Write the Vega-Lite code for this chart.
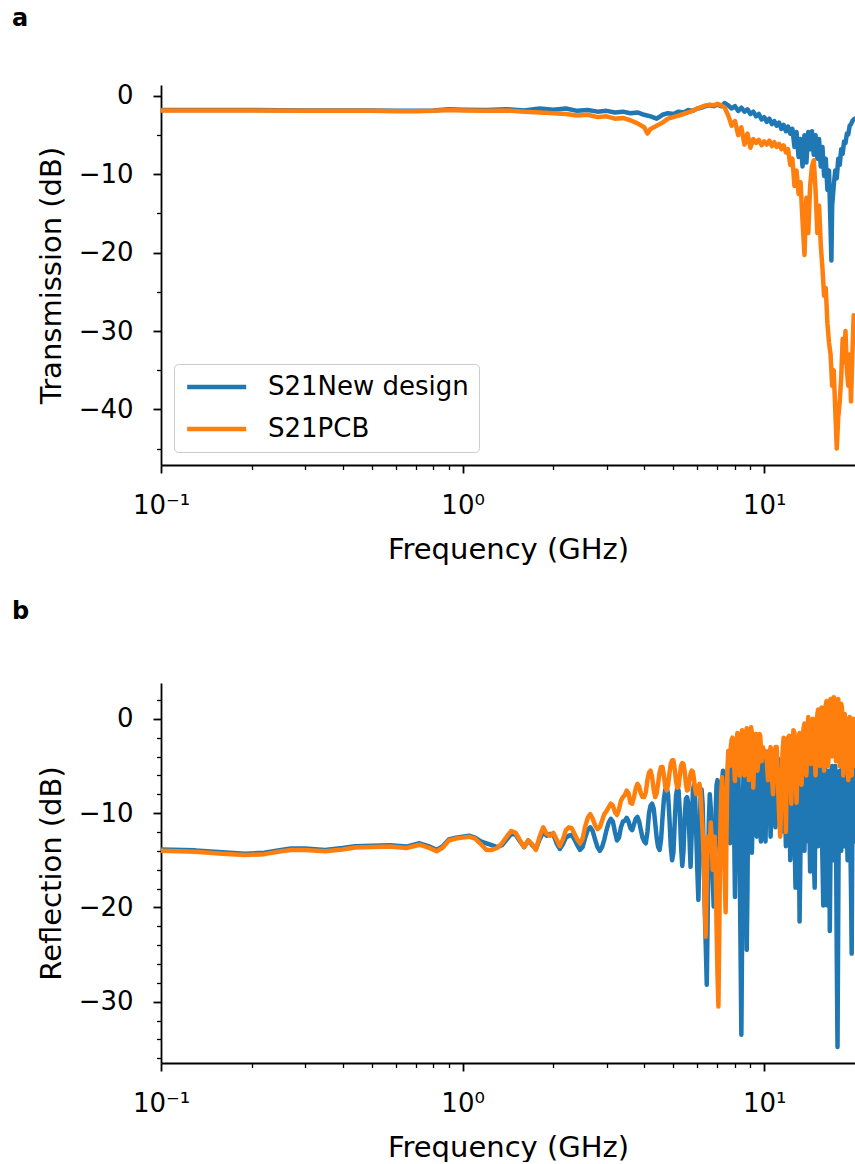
{
  "$schema": "https://vega.github.io/schema/vega-lite/v6.json",
  "background": "white",
  "padding": {"left": 12, "top": 6, "right": 0, "bottom": 0},
  "spacing": 36,
  "resolve": {"scale": {"color": "independent"}, "legend": {"color": "independent"}},
  "config": {
    "font": "DejaVu Sans",
    "view": {"stroke": null},
    "axis": {
      "grid": false,
      "domainColor": "black",
      "domainWidth": 1.8,
      "tickColor": "black",
      "labelColor": "black",
      "titleColor": "black",
      "labelFont": "DejaVu Sans",
      "titleFont": "DejaVu Sans",
      "titleFontSize": 29,
      "titleFontWeight": "normal",
      "labelFlush": false
    },
    "title": {"font": "DejaVu Sans", "color": "black"}
  },
  "datasets": {
    "tNew": [
      {"f":0.1,"v":-1.8},{"f":0.15,"v":-1.8},{"f":0.2,"v":-1.8},{"f":0.3,"v":-1.85},{"f":0.4,"v":-1.85},{"f":0.5,"v":-1.85},{"f":0.6,"v":-1.9},{"f":0.7,"v":-1.9},{"f":0.8,"v":-1.85},{"f":0.9,"v":-1.7},
      {"f":1.0,"v":-1.75},{"f":1.2,"v":-1.8},{"f":1.4,"v":-1.7},{"f":1.6,"v":-1.85},{"f":1.8,"v":-1.6},{"f":2.0,"v":-1.75},{"f":2.2,"v":-1.6},{"f":2.4,"v":-1.9},{"f":2.6,"v":-1.8},{"f":2.8,"v":-2.0},
      {"f":3.0,"v":-1.9},{"f":3.2,"v":-2.1},{"f":3.4,"v":-2.0},{"f":3.6,"v":-2.2},{"f":3.8,"v":-2.1},{"f":4.0,"v":-2.4},{"f":4.2,"v":-2.6},{"f":4.4,"v":-2.9},{"f":4.6,"v":-2.4},{"f":4.8,"v":-2.2},
      {"f":5.0,"v":-2.3},{"f":5.2,"v":-2.0},{"f":5.4,"v":-2.1},{"f":5.6,"v":-1.8},{"f":5.8,"v":-1.9},{"f":6.0,"v":-1.6},{"f":6.2,"v":-1.5},{"f":6.4,"v":-1.3},{"f":6.6,"v":-1.2},{"f":6.8,"v":-1.3},
      {"f":7.0,"v":-1.1},{"f":7.2,"v":-1.3},{"f":7.4,"v":-0.9},{"f":7.6,"v":-1.2},{"f":7.8,"v":-1.6},{"f":8.0,"v":-1.3},{"f":8.2,"v":-1.9},{"f":8.4,"v":-1.5},{"f":8.6,"v":-2.0},{"f":8.8,"v":-1.7},
      {"f":9.0,"v":-2.3},{"f":9.2,"v":-2.0},{"f":9.4,"v":-2.6},{"f":9.6,"v":-2.3},{"f":9.8,"v":-3.0},{"f":10.0,"v":-2.7},{"f":10.2,"v":-3.3},{"f":10.4,"v":-2.9},{"f":10.6,"v":-3.6},{"f":10.8,"v":-3.2},
      {"f":11.0,"v":-3.8},{"f":11.2,"v":-3.4},{"f":11.4,"v":-4.2},{"f":11.6,"v":-3.7},{"f":11.8,"v":-4.5},{"f":12.0,"v":-3.9},{"f":12.2,"v":-4.8},{"f":12.4,"v":-4.2},{"f":12.6,"v":-6.5},{"f":12.8,"v":-4.6},
      {"f":13.0,"v":-7.8},{"f":13.2,"v":-5.5},{"f":13.4,"v":-9.0},{"f":13.6,"v":-5.0},{"f":13.8,"v":-8.5},{"f":14.0,"v":-4.6},{"f":14.2,"v":-6.8},{"f":14.4,"v":-4.5},{"f":14.6,"v":-7.5},{"f":14.8,"v":-5.0},
      {"f":15.0,"v":-8.0},{"f":15.2,"v":-5.5},{"f":15.4,"v":-9.0},{"f":15.6,"v":-6.5},{"f":15.8,"v":-10.2},{"f":16.0,"v":-8.0},{"f":16.2,"v":-12.0},{"f":16.4,"v":-9.5},{"f":16.6,"v":-17.0},{"f":16.7,"v":-21.0},
      {"f":16.8,"v":-14.0},{"f":17.0,"v":-11.5},{"f":17.2,"v":-9.5},{"f":17.4,"v":-10.5},{"f":17.6,"v":-8.0},{"f":17.8,"v":-8.8},{"f":18.0,"v":-6.8},{"f":18.2,"v":-7.4},{"f":18.4,"v":-5.8},{"f":18.6,"v":-6.0},
      {"f":18.8,"v":-4.8},{"f":19.0,"v":-4.9},{"f":19.2,"v":-3.8},{"f":19.4,"v":-3.6},{"f":19.6,"v":-3.2},{"f":19.8,"v":-3.0},{"f":20.0,"v":-2.9}
    ],
    "tPcb": [
      {"f":0.1,"v":-1.85},{"f":0.15,"v":-1.85},{"f":0.2,"v":-1.85},{"f":0.3,"v":-1.9},{"f":0.4,"v":-1.9},{"f":0.5,"v":-1.9},{"f":0.6,"v":-1.95},{"f":0.7,"v":-1.95},{"f":0.8,"v":-1.9},{"f":0.9,"v":-1.8},
      {"f":1.0,"v":-1.85},{"f":1.2,"v":-1.9},{"f":1.4,"v":-1.85},{"f":1.6,"v":-2.0},{"f":1.8,"v":-2.1},{"f":2.0,"v":-2.2},{"f":2.2,"v":-2.3},{"f":2.4,"v":-2.5},{"f":2.6,"v":-2.4},{"f":2.8,"v":-2.7},
      {"f":3.0,"v":-2.6},{"f":3.2,"v":-2.9},{"f":3.4,"v":-2.8},{"f":3.6,"v":-3.1},{"f":3.8,"v":-3.5},{"f":4.0,"v":-4.0},{"f":4.1,"v":-4.8},{"f":4.2,"v":-4.2},{"f":4.4,"v":-3.8},{"f":4.6,"v":-3.4},
      {"f":4.8,"v":-2.9},{"f":5.0,"v":-2.7},{"f":5.2,"v":-2.5},{"f":5.4,"v":-2.3},{"f":5.6,"v":-2.1},{"f":5.8,"v":-1.9},{"f":6.0,"v":-1.6},{"f":6.2,"v":-1.4},{"f":6.4,"v":-1.2},{"f":6.6,"v":-1.1},
      {"f":6.8,"v":-1.2},{"f":7.0,"v":-1.0},{"f":7.2,"v":-1.2},{"f":7.4,"v":-1.5},{"f":7.6,"v":-2.5},{"f":7.8,"v":-3.8},{"f":8.0,"v":-3.2},{"f":8.2,"v":-5.0},{"f":8.4,"v":-4.0},{"f":8.6,"v":-6.2},
      {"f":8.8,"v":-4.8},{"f":9.0,"v":-6.6},{"f":9.2,"v":-5.5},{"f":9.4,"v":-6.0},{"f":9.6,"v":-5.6},{"f":9.8,"v":-6.3},{"f":10.0,"v":-5.8},{"f":10.2,"v":-6.2},{"f":10.4,"v":-5.7},{"f":10.6,"v":-6.4},
      {"f":10.8,"v":-5.9},{"f":11.0,"v":-6.5},{"f":11.2,"v":-6.1},{"f":11.4,"v":-6.8},{"f":11.6,"v":-6.3},{"f":11.8,"v":-7.2},{"f":12.0,"v":-6.8},{"f":12.2,"v":-8.8},{"f":12.4,"v":-8.0},{"f":12.6,"v":-11.5},
      {"f":12.8,"v":-9.5},{"f":13.0,"v":-12.5},{"f":13.2,"v":-11.0},{"f":13.4,"v":-16.0},{"f":13.6,"v":-20.3},{"f":13.8,"v":-13.0},{"f":14.0,"v":-17.5},{"f":14.2,"v":-11.5},{"f":14.4,"v":-9.0},{"f":14.6,"v":-8.2},
      {"f":14.8,"v":-12.0},{"f":15.0,"v":-17.5},{"f":15.2,"v":-14.0},{"f":15.4,"v":-19.0},{"f":15.6,"v":-22.0},{"f":15.8,"v":-25.5},{"f":16.0,"v":-24.5},{"f":16.2,"v":-29.0},{"f":16.4,"v":-31.5},{"f":16.6,"v":-33.0},
      {"f":16.8,"v":-37.0},{"f":17.0,"v":-35.0},{"f":17.2,"v":-40.0},{"f":17.4,"v":-45.0},{"f":17.6,"v":-41.0},{"f":17.8,"v":-39.0},{"f":18.0,"v":-36.0},{"f":18.2,"v":-31.0},{"f":18.4,"v":-34.0},{"f":18.6,"v":-30.0},
      {"f":18.8,"v":-35.0},{"f":19.0,"v":-37.0},{"f":19.2,"v":-33.0},{"f":19.4,"v":-39.0},{"f":19.6,"v":-33.0},{"f":19.8,"v":-28.0},{"f":20.0,"v":-30.0}
    ],
    "rNew": [
      {"f":0.1,"v":-13.85},{"f":0.13,"v":-13.95},{"f":0.16,"v":-14.15},{"f":0.19,"v":-14.3},{"f":0.22,"v":-14.2},{"f":0.25,"v":-13.9},{"f":0.27,"v":-13.75},{"f":0.3,"v":-13.75},{"f":0.35,"v":-13.9},{"f":0.4,"v":-13.7},
      {"f":0.44,"v":-13.5},{"f":0.5,"v":-13.45},{"f":0.575,"v":-13.4},{"f":0.65,"v":-13.55},{"f":0.72,"v":-13.2},{"f":0.77,"v":-13.5},{"f":0.82,"v":-13.9},{"f":0.86,"v":-13.5},{"f":0.9,"v":-12.8},{"f":0.95,"v":-12.6},
      {"f":1.0,"v":-12.5},{"f":1.05,"v":-12.4},{"f":1.1,"v":-12.6},{"f":1.15,"v":-13.0},{"f":1.2,"v":-13.2},{"f":1.25,"v":-13.4},{"f":1.3,"v":-13.6},{"f":1.35,"v":-13.4},{"f":1.4,"v":-12.8},{"f":1.45,"v":-12.2},
      {"f":1.5,"v":-12.3},{"f":1.55,"v":-13.0},{"f":1.6,"v":-13.6},{"f":1.65,"v":-12.9},{"f":1.7,"v":-13.4},{"f":1.75,"v":-13.8},{"f":1.8,"v":-12.8},{"f":1.85,"v":-12.0},{"f":1.9,"v":-12.4},{"f":1.95,"v":-12.2},
      {"f":2.0,"v":-12.3},{"f":2.05,"v":-13.2},{"f":2.1,"v":-13.8},{"f":2.15,"v":-13.3},{"f":2.2,"v":-12.6},{"f":2.25,"v":-12.4},{"f":2.3,"v":-12.3},{"f":2.35,"v":-12.8},{"f":2.4,"v":-13.4},{"f":2.45,"v":-13.9},
      {"f":2.5,"v":-13.6},{"f":2.55,"v":-12.6},{"f":2.6,"v":-11.8},{"f":2.65,"v":-11.5},{"f":2.7,"v":-11.9},{"f":2.75,"v":-12.8},{"f":2.8,"v":-13.6},{"f":2.85,"v":-14.0},{"f":2.9,"v":-13.6},{"f":2.95,"v":-12.8},
      {"f":3.0,"v":-11.8},{"f":3.05,"v":-11.0},{"f":3.1,"v":-10.6},{"f":3.15,"v":-10.9},{"f":3.2,"v":-12.0},{"f":3.25,"v":-12.9},{"f":3.3,"v":-12.6},{"f":3.35,"v":-11.5},{"f":3.4,"v":-10.9},{"f":3.45,"v":-10.8},
      {"f":3.5,"v":-10.5},{"f":3.55,"v":-10.9},{"f":3.6,"v":-11.6},{"f":3.65,"v":-11.8},{"f":3.7,"v":-11.2},{"f":3.75,"v":-10.6},{"f":3.8,"v":-10.4},{"f":3.85,"v":-10.9},{"f":3.9,"v":-11.8},{"f":3.95,"v":-12.6},
      {"f":4.0,"v":-13.0},{"f":4.05,"v":-13.2},{"f":4.1,"v":-12.0},{"f":4.15,"v":-10.0},{"f":4.2,"v":-9.2},{"f":4.25,"v":-9.0},{"f":4.3,"v":-9.5},{"f":4.35,"v":-11.0},{"f":4.4,"v":-12.6},{"f":4.45,"v":-13.6},
      {"f":4.5,"v":-13.9},{"f":4.55,"v":-12.8},{"f":4.6,"v":-10.5},{"f":4.65,"v":-8.5},{"f":4.7,"v":-7.5},{"f":4.75,"v":-7.3},{"f":4.8,"v":-8.0},{"f":4.85,"v":-10.5},{"f":4.9,"v":-13.5},{"f":4.95,"v":-15.0},
      {"f":5.0,"v":-14.2},{"f":5.05,"v":-11.0},{"f":5.1,"v":-8.2},{"f":5.15,"v":-7.3},{"f":5.2,"v":-7.6},{"f":5.25,"v":-9.8},{"f":5.3,"v":-13.5},{"f":5.35,"v":-15.6},{"f":5.4,"v":-14.0},{"f":5.45,"v":-10.5},
      {"f":5.5,"v":-8.5},{"f":5.55,"v":-8.3},{"f":5.6,"v":-9.0},{"f":5.65,"v":-12.5},{"f":5.7,"v":-15.7},{"f":5.75,"v":-12.0},{"f":5.8,"v":-7.6},{"f":5.85,"v":-7.0},{"f":5.9,"v":-8.2},{"f":5.95,"v":-12.0},
      {"f":6.0,"v":-16.0},{"f":6.05,"v":-19.2},{"f":6.1,"v":-14.0},{"f":6.15,"v":-8.5},{"f":6.2,"v":-7.5},{"f":6.25,"v":-9.0},{"f":6.3,"v":-14.0},{"f":6.35,"v":-20.0},{"f":6.4,"v":-24.0},{"f":6.45,"v":-28.2},
      {"f":6.5,"v":-20.0},{"f":6.55,"v":-11.0},{"f":6.6,"v":-8.0},{"f":6.65,"v":-9.5},{"f":6.7,"v":-14.0},{"f":6.75,"v":-17.0},{"f":6.8,"v":-19.9},{"f":6.85,"v":-16.0},{"f":6.9,"v":-10.0},{"f":6.95,"v":-7.0},
      {"f":7.0,"v":-6.5},{"f":7.05,"v":-9.0},{"f":7.1,"v":-13.0},{"f":7.15,"v":-15.0},{"f":7.2,"v":-11.0},{"f":7.25,"v":-6.5},{"f":7.3,"v":-5.5},{"f":7.35,"v":-7.0},{"f":7.4,"v":-11.0},{"f":7.45,"v":-13.5},
      {"f":7.5,"v":-10.0},{"f":7.55,"v":-6.0},{"f":7.6,"v":-5.0},{"f":7.65,"v":-6.5},{"f":7.7,"v":-13.2},{"f":7.75,"v":-11.0},{"f":7.8,"v":-6.0},{"f":7.85,"v":-4.8},{"f":7.9,"v":-5.5},{"f":7.95,"v":-12.0},
      {"f":8.0,"v":-18.9},{"f":8.05,"v":-12.0},{"f":8.1,"v":-6.0},{"f":8.15,"v":-4.5},{"f":8.2,"v":-5.0},{"f":8.25,"v":-9.0},{"f":8.3,"v":-16.0},{"f":8.35,"v":-25.0},{"f":8.4,"v":-33.5},{"f":8.45,"v":-22.0},
      {"f":8.5,"v":-9.0},{"f":8.55,"v":-5.0},{"f":8.6,"v":-4.5},{"f":8.65,"v":-8.0},{"f":8.7,"v":-16.0},{"f":8.75,"v":-24.5},{"f":8.8,"v":-18.0},{"f":8.85,"v":-8.0},{"f":8.9,"v":-4.6},{"f":8.95,"v":-4.2},
      {"f":9.0,"v":-5.5},{"f":9.05,"v":-10.0},{"f":9.1,"v":-14.2},{"f":9.15,"v":-11.0},{"f":9.2,"v":-6.0},{"f":9.25,"v":-4.2},{"f":9.3,"v":-4.0},{"f":9.35,"v":-6.5},{"f":9.4,"v":-11.0},{"f":9.45,"v":-12.5},
      {"f":9.5,"v":-9.0},{"f":9.55,"v":-5.0},{"f":9.6,"v":-3.8},{"f":9.65,"v":-4.5},{"f":9.7,"v":-9.0},{"f":9.75,"v":-13.0},{"f":9.8,"v":-10.0},{"f":9.85,"v":-5.0},{"f":9.9,"v":-3.6},{"f":9.95,"v":-4.0},
      {"f":10.0,"v":-8.5},{"f":10.1,"v":-13.0},{"f":10.2,"v":-6.0},{"f":10.3,"v":-3.5},{"f":10.4,"v":-7.0},{"f":10.5,"v":-12.5},{"f":10.6,"v":-8.0},{"f":10.7,"v":-3.8},{"f":10.8,"v":-5.5},{"f":10.9,"v":-11.5},
      {"f":11.0,"v":-9.0},{"f":11.1,"v":-4.2},{"f":11.2,"v":-4.5},{"f":11.3,"v":-10.5},{"f":11.4,"v":-12.0},{"f":11.5,"v":-6.0},{"f":11.6,"v":-4.0},{"f":11.7,"v":-8.0},{"f":11.8,"v":-13.5},{"f":11.9,"v":-9.0},
      {"f":12.0,"v":-4.8},{"f":12.1,"v":-6.0},{"f":12.2,"v":-15.0},{"f":12.3,"v":-12.0},{"f":12.4,"v":-5.2},{"f":12.5,"v":-5.0},{"f":12.6,"v":-12.0},{"f":12.7,"v":-17.9},{"f":12.8,"v":-10.0},{"f":12.9,"v":-4.5},
      {"f":13.0,"v":-7.0},{"f":13.1,"v":-21.5},{"f":13.2,"v":-13.0},{"f":13.3,"v":-5.0},{"f":13.4,"v":-4.2},{"f":13.5,"v":-10.0},{"f":13.6,"v":-14.0},{"f":13.7,"v":-7.0},{"f":13.8,"v":-4.0},{"f":13.9,"v":-6.5},
      {"f":14.0,"v":-13.0},{"f":14.1,"v":-10.0},{"f":14.2,"v":-16.2},{"f":14.3,"v":-5.5},{"f":14.4,"v":-4.3},{"f":14.5,"v":-9.0},{"f":14.6,"v":-14.5},{"f":14.7,"v":-17.9},{"f":14.8,"v":-8.0},{"f":14.9,"v":-4.5},
      {"f":15.0,"v":-6.0},{"f":15.1,"v":-13.5},{"f":15.2,"v":-11.0},{"f":15.3,"v":-5.0},{"f":15.4,"v":-4.8},{"f":15.5,"v":-11.0},{"f":15.6,"v":-15.0},{"f":15.7,"v":-19.8},{"f":15.8,"v":-9.0},{"f":15.9,"v":-5.0},
      {"f":16.0,"v":-6.0},{"f":16.1,"v":-14.0},{"f":16.2,"v":-19.8},{"f":16.3,"v":-12.0},{"f":16.4,"v":-5.5},{"f":16.5,"v":-22.5},{"f":16.6,"v":-13.0},{"f":16.7,"v":-6.0},{"f":16.8,"v":-5.0},{"f":16.9,"v":-12.0},
      {"f":17.0,"v":-15.0},{"f":17.1,"v":-8.0},{"f":17.2,"v":-5.0},{"f":17.3,"v":-12.0},{"f":17.4,"v":-25.0},{"f":17.5,"v":-34.8},{"f":17.6,"v":-20.0},{"f":17.7,"v":-7.0},{"f":17.8,"v":-5.5},{"f":17.9,"v":-11.0},
      {"f":18.0,"v":-14.0},{"f":18.1,"v":-7.0},{"f":18.2,"v":-5.0},{"f":18.3,"v":-9.0},{"f":18.4,"v":-13.5},{"f":18.5,"v":-8.0},{"f":18.6,"v":-5.2},{"f":18.7,"v":-6.0},{"f":18.8,"v":-12.0},{"f":18.9,"v":-15.0},
      {"f":19.0,"v":-8.0},{"f":19.1,"v":-5.5},{"f":19.2,"v":-7.0},{"f":19.3,"v":-13.0},{"f":19.4,"v":-18.0},{"f":19.5,"v":-24.9},{"f":19.6,"v":-12.0},{"f":19.7,"v":-6.0},{"f":19.8,"v":-5.0},{"f":19.9,"v":-9.0},
      {"f":20.0,"v":-13.0}
    ],
    "rPcb": [
      {"f":0.1,"v":-14.0},{"f":0.13,"v":-14.1},{"f":0.16,"v":-14.3},{"f":0.19,"v":-14.45},{"f":0.22,"v":-14.35},{"f":0.25,"v":-14.05},{"f":0.27,"v":-13.9},{"f":0.3,"v":-13.9},{"f":0.35,"v":-14.05},{"f":0.4,"v":-13.85},
      {"f":0.44,"v":-13.65},{"f":0.5,"v":-13.6},{"f":0.575,"v":-13.55},{"f":0.65,"v":-13.7},{"f":0.72,"v":-13.35},{"f":0.77,"v":-13.65},{"f":0.82,"v":-14.05},{"f":0.86,"v":-13.65},{"f":0.9,"v":-12.9},{"f":0.95,"v":-12.7},
      {"f":1.0,"v":-12.6},{"f":1.05,"v":-12.5},{"f":1.1,"v":-12.7},{"f":1.15,"v":-13.3},{"f":1.2,"v":-13.9},{"f":1.25,"v":-13.9},{"f":1.3,"v":-13.7},{"f":1.35,"v":-13.2},{"f":1.4,"v":-12.5},{"f":1.45,"v":-11.9},
      {"f":1.5,"v":-12.1},{"f":1.55,"v":-12.9},{"f":1.6,"v":-13.6},{"f":1.65,"v":-12.9},{"f":1.7,"v":-13.3},{"f":1.75,"v":-13.9},{"f":1.8,"v":-12.5},{"f":1.85,"v":-11.5},{"f":1.9,"v":-12.2},{"f":1.95,"v":-12.4},
      {"f":2.0,"v":-12.1},{"f":2.05,"v":-12.8},{"f":2.1,"v":-13.5},{"f":2.15,"v":-12.8},{"f":2.2,"v":-11.8},{"f":2.25,"v":-11.5},{"f":2.3,"v":-11.6},{"f":2.35,"v":-12.2},{"f":2.4,"v":-12.8},{"f":2.45,"v":-13.2},
      {"f":2.5,"v":-12.7},{"f":2.55,"v":-11.4},{"f":2.6,"v":-10.5},{"f":2.65,"v":-10.1},{"f":2.7,"v":-10.6},{"f":2.75,"v":-11.3},{"f":2.8,"v":-11.7},{"f":2.85,"v":-11.5},{"f":2.9,"v":-10.8},{"f":2.95,"v":-10.1},
      {"f":3.0,"v":-9.8},{"f":3.05,"v":-9.4},{"f":3.1,"v":-9.0},{"f":3.15,"v":-9.2},{"f":3.2,"v":-9.9},{"f":3.25,"v":-10.2},{"f":3.3,"v":-9.6},{"f":3.35,"v":-8.7},{"f":3.4,"v":-8.3},{"f":3.45,"v":-8.1},
      {"f":3.5,"v":-7.6},{"f":3.55,"v":-7.9},{"f":3.6,"v":-8.9},{"f":3.65,"v":-9.0},{"f":3.7,"v":-8.3},{"f":3.75,"v":-7.4},{"f":3.8,"v":-6.9},{"f":3.85,"v":-7.2},{"f":3.9,"v":-7.9},{"f":3.95,"v":-8.3},
      {"f":4.0,"v":-8.3},{"f":4.05,"v":-7.8},{"f":4.1,"v":-6.5},{"f":4.15,"v":-5.7},{"f":4.2,"v":-5.5},{"f":4.25,"v":-6.2},{"f":4.3,"v":-7.5},{"f":4.35,"v":-8.3},{"f":4.4,"v":-7.9},{"f":4.45,"v":-6.8},
      {"f":4.5,"v":-5.7},{"f":4.55,"v":-5.1},{"f":4.6,"v":-5.1},{"f":4.65,"v":-6.0},{"f":4.7,"v":-7.2},{"f":4.75,"v":-7.6},{"f":4.8,"v":-7.0},{"f":4.85,"v":-5.8},{"f":4.9,"v":-4.8},{"f":4.95,"v":-4.4},
      {"f":5.0,"v":-4.4},{"f":5.05,"v":-5.3},{"f":5.1,"v":-6.6},{"f":5.15,"v":-7.3},{"f":5.2,"v":-7.2},{"f":5.25,"v":-6.0},{"f":5.3,"v":-5.0},{"f":5.35,"v":-4.7},{"f":5.4,"v":-4.8},{"f":5.45,"v":-5.6},
      {"f":5.5,"v":-6.9},{"f":5.55,"v":-7.6},{"f":5.6,"v":-7.5},{"f":5.65,"v":-6.5},{"f":5.7,"v":-5.8},{"f":5.75,"v":-5.5},{"f":5.8,"v":-5.6},{"f":5.85,"v":-6.4},{"f":5.9,"v":-7.4},{"f":5.95,"v":-8.0},
      {"f":6.0,"v":-8.0},{"f":6.05,"v":-7.2},{"f":6.1,"v":-6.9},{"f":6.15,"v":-7.8},{"f":6.2,"v":-10.0},{"f":6.25,"v":-12.0},{"f":6.3,"v":-15.0},{"f":6.35,"v":-19.0},{"f":6.4,"v":-23.1},{"f":6.45,"v":-17.0},
      {"f":6.5,"v":-12.5},{"f":6.55,"v":-13.0},{"f":6.6,"v":-14.0},{"f":6.65,"v":-11.0},{"f":6.7,"v":-13.0},{"f":6.75,"v":-16.0},{"f":6.8,"v":-13.0},{"f":6.85,"v":-12.5},{"f":6.9,"v":-15.0},{"f":6.95,"v":-22.0},
      {"f":7.0,"v":-27.0},{"f":7.05,"v":-30.5},{"f":7.1,"v":-22.0},{"f":7.15,"v":-12.0},{"f":7.2,"v":-8.0},{"f":7.25,"v":-6.2},{"f":7.3,"v":-8.0},{"f":7.35,"v":-13.0},{"f":7.4,"v":-17.0},{"f":7.45,"v":-20.5},
      {"f":7.5,"v":-12.0},{"f":7.55,"v":-5.5},{"f":7.6,"v":-3.4},{"f":7.65,"v":-3.8},{"f":7.7,"v":-5.0},{"f":7.75,"v":-3.0},{"f":7.8,"v":-2.2},{"f":7.85,"v":-2.0},{"f":7.9,"v":-3.0},{"f":7.95,"v":-5.0},
      {"f":8.0,"v":-6.6},{"f":8.05,"v":-4.5},{"f":8.1,"v":-2.5},{"f":8.15,"v":-1.5},{"f":8.2,"v":-1.8},{"f":8.25,"v":-3.5},{"f":8.3,"v":-6.0},{"f":8.35,"v":-4.0},{"f":8.4,"v":-1.8},{"f":8.45,"v":-1.2},
      {"f":8.5,"v":-2.0},{"f":8.55,"v":-4.0},{"f":8.6,"v":-6.0},{"f":8.65,"v":-4.5},{"f":8.7,"v":-2.0},{"f":8.75,"v":-1.0},{"f":8.8,"v":-1.4},{"f":8.85,"v":-4.0},{"f":8.9,"v":-6.5},{"f":8.95,"v":-4.0},
      {"f":9.0,"v":-1.5},{"f":9.05,"v":-0.9},{"f":9.1,"v":-1.5},{"f":9.15,"v":-4.0},{"f":9.2,"v":-7.3},{"f":9.25,"v":-5.0},{"f":9.3,"v":-2.5},{"f":9.35,"v":-1.6},{"f":9.4,"v":-1.6},{"f":9.45,"v":-3.0},
      {"f":9.5,"v":-5.5},{"f":9.55,"v":-4.5},{"f":9.6,"v":-2.5},{"f":9.65,"v":-1.6},{"f":9.7,"v":-1.8},{"f":9.75,"v":-3.0},{"f":9.8,"v":-4.5},{"f":9.85,"v":-3.7},{"f":9.9,"v":-3.0},{"f":9.95,"v":-3.5},
      {"f":10.0,"v":-4.0},{"f":10.1,"v":-3.4},{"f":10.2,"v":-4.5},{"f":10.3,"v":-6.5},{"f":10.4,"v":-4.0},{"f":10.5,"v":-3.0},{"f":10.6,"v":-6.0},{"f":10.7,"v":-8.0},{"f":10.8,"v":-4.0},{"f":10.9,"v":-3.0},
      {"f":11.0,"v":-3.0},{"f":11.1,"v":-6.5},{"f":11.2,"v":-10.0},{"f":11.3,"v":-12.5},{"f":11.4,"v":-8.0},{"f":11.5,"v":-3.5},{"f":11.6,"v":-2.0},{"f":11.7,"v":-5.5},{"f":11.8,"v":-12.0},{"f":11.9,"v":-4.0},
      {"f":12.0,"v":-2.0},{"f":12.1,"v":-1.8},{"f":12.2,"v":-5.0},{"f":12.3,"v":-9.0},{"f":12.4,"v":-3.0},{"f":12.5,"v":-1.2},{"f":12.6,"v":-1.5},{"f":12.7,"v":-5.0},{"f":12.8,"v":-8.9},{"f":12.9,"v":-5.0},
      {"f":13.0,"v":-2.0},{"f":13.1,"v":-1.5},{"f":13.2,"v":-4.5},{"f":13.3,"v":-7.0},{"f":13.4,"v":-3.0},{"f":13.5,"v":-1.0},{"f":13.6,"v":-0.5},{"f":13.7,"v":-3.0},{"f":13.8,"v":-6.0},{"f":13.9,"v":-2.0},
      {"f":14.0,"v":0.2},{"f":14.1,"v":-0.5},{"f":14.2,"v":-3.5},{"f":14.3,"v":-4.8},{"f":14.4,"v":-2.0},{"f":14.5,"v":0.0},{"f":14.6,"v":-1.0},{"f":14.7,"v":-4.0},{"f":14.8,"v":-6.0},{"f":14.9,"v":-2.0},
      {"f":15.0,"v":0.5},{"f":15.1,"v":1.0},{"f":15.2,"v":-2.0},{"f":15.3,"v":-5.0},{"f":15.4,"v":-1.0},{"f":15.5,"v":1.2},{"f":15.6,"v":1.0},{"f":15.7,"v":-2.5},{"f":15.8,"v":-5.5},{"f":15.9,"v":-1.5},
      {"f":16.0,"v":1.5},{"f":16.1,"v":1.9},{"f":16.2,"v":-1.0},{"f":16.3,"v":-5.0},{"f":16.4,"v":-2.0},{"f":16.5,"v":1.8},{"f":16.6,"v":2.1},{"f":16.7,"v":-0.5},{"f":16.8,"v":-4.0},{"f":16.9,"v":-1.0},
      {"f":17.0,"v":2.3},{"f":17.1,"v":2.2},{"f":17.2,"v":-1.0},{"f":17.3,"v":-4.5},{"f":17.4,"v":-1.5},{"f":17.5,"v":2.0},{"f":17.6,"v":2.1},{"f":17.7,"v":-0.5},{"f":17.8,"v":-5.0},{"f":17.9,"v":-2.0},
      {"f":18.0,"v":1.6},{"f":18.1,"v":1.2},{"f":18.2,"v":-2.0},{"f":18.3,"v":-6.0},{"f":18.4,"v":-2.5},{"f":18.5,"v":0.5},{"f":18.6,"v":-4.8},{"f":18.7,"v":-2.0},{"f":18.8,"v":0.0},{"f":18.9,"v":-3.0},
      {"f":19.0,"v":-6.5},{"f":19.1,"v":-2.0},{"f":19.2,"v":0.2},{"f":19.3,"v":-0.5},{"f":19.4,"v":-4.0},{"f":19.5,"v":-6.0},{"f":19.6,"v":-1.5},{"f":19.7,"v":0.0},{"f":19.8,"v":-2.0},{"f":19.9,"v":-5.0},
      {"f":20.0,"v":-4.4}
    ]
  },
  "vconcat": [
    {
      "title": {"text": "a", "anchor": "start", "frame": "group", "dx": -149, "offset": 52, "fontSize": 24, "fontWeight": "bold"},
      "width": 694,
      "height": 380,
      "layer": [
        {
          "data": {"name": "tNew"},
          "mark": {"type": "line", "strokeWidth": 4.5, "clip": true, "strokeJoin": "round", "strokeCap": "round"},
          "encoding": {
            "x": {"field": "f", "type": "quantitative", "scale": {"type": "log", "domain": [0.1, 20], "nice": false},
              "axis": {"title": "Frequency (GHz)", "values": [0.1,0.2,0.3,0.4,0.5,0.6,0.7,0.8,0.9,1,2,3,4,5,6,7,8,9,10],
                "tickCount": 100,
                "labelExpr": "datum.value == 0.1 ? '10⁻¹' : datum.value == 1 ? '10⁰' : datum.value == 10 ? '10¹' : ''",
                "labelOverlap": false,
                "labelFontSize": {"condition": {"test": "datum.value == 0.1 || datum.value == 1 || datum.value == 10", "value": 26}, "value": 1},
                "tickSize": {"condition": {"test": "datum.value == 0.1 || datum.value == 1 || datum.value == 10", "value": 8}, "value": 4.5},
                "tickWidth": {"condition": {"test": "datum.value == 0.1 || datum.value == 1 || datum.value == 10", "value": 1.8}, "value": 1.3},
                "labelPadding": 19, "titlePadding": 17}},
            "y": {"field": "v", "type": "quantitative", "scale": {"domain": [-47.1, 1.4], "nice": false, "zero": false},
              "axis": {"title": "Transmission (dB)", "values": [0,-5,-10,-15,-20,-25,-30,-35,-40,-45],
                "tickCount": 100,
                "format": "d",
                "labelExpr": "datum.value % 10 == 0 ? datum.label : ''",
                "labelOverlap": false,
                "labelFontSize": {"condition": {"test": "datum.value % 10 == 0", "value": 26}, "value": 1},
                "tickSize": {"condition": {"test": "datum.value % 10 == 0", "value": 8}, "value": 4.5},
                "tickWidth": {"condition": {"test": "datum.value % 10 == 0", "value": 1.8}, "value": 1.3},
                "labelPadding": 20, "titlePadding": 12}},
            "color": {"datum": "S21New design", "type": "nominal",
              "scale": {"domain": ["S21New design", "S21PCB"], "range": ["#1f77b4", "#ff7f0e"]},
              "legend": {"title": null, "orient": "bottom-left", "offset": 13, "symbolType": "M-1,0H5", "symbolSize": 387, "symbolStrokeWidth": 4.5,
                "labelFontSize": 26, "labelColor": "black", "labelOffset": 58, "rowPadding": 16, "padding": 10,
                "fillColor": "white", "strokeColor": "#cccccc", "cornerRadius": 4, "labelLimit": 400}}
          }
        },
        {
          "data": {"name": "tPcb"},
          "mark": {"type": "line", "strokeWidth": 4.5, "clip": true, "strokeJoin": "round", "strokeCap": "round"},
          "encoding": {
            "x": {"field": "f", "type": "quantitative"},
            "y": {"field": "v", "type": "quantitative"},
            "color": {"datum": "S21PCB", "type": "nominal"}
          }
        },
        {
          "mark": {"type": "rule", "color": "black", "strokeWidth": 1.8},
          "encoding": {"y": {"datum": 1.4, "type": "quantitative"}}
        }
      ]
    },
    {
      "title": {"text": "b", "anchor": "start", "frame": "group", "dx": -149, "offset": 59, "fontSize": 24, "fontWeight": "bold"},
      "width": 694,
      "height": 380,
      "layer": [
        {
          "data": {"name": "rNew"},
          "mark": {"type": "line", "color": "#1f77b4", "strokeWidth": 4.5, "clip": true, "strokeJoin": "round", "strokeCap": "round"},
          "encoding": {
            "x": {"field": "f", "type": "quantitative", "scale": {"type": "log", "domain": [0.1, 20], "nice": false},
              "axis": {"title": "Frequency (GHz)", "values": [0.1,0.2,0.3,0.4,0.5,0.6,0.7,0.8,0.9,1,2,3,4,5,6,7,8,9,10],
                "tickCount": 100,
                "labelExpr": "datum.value == 0.1 ? '10⁻¹' : datum.value == 1 ? '10⁰' : datum.value == 10 ? '10¹' : ''",
                "labelOverlap": false,
                "labelFontSize": {"condition": {"test": "datum.value == 0.1 || datum.value == 1 || datum.value == 10", "value": 26}, "value": 1},
                "tickSize": {"condition": {"test": "datum.value == 0.1 || datum.value == 1 || datum.value == 10", "value": 8}, "value": 4.5},
                "tickWidth": {"condition": {"test": "datum.value == 0.1 || datum.value == 1 || datum.value == 10", "value": 1.8}, "value": 1.3},
                "labelPadding": 19, "titlePadding": 17}},
            "y": {"field": "v", "type": "quantitative", "scale": {"domain": [-36.5, 3.8], "nice": false, "zero": false},
              "axis": {"title": "Reflection (dB)", "values": [2,0,-2,-4,-6,-8,-10,-12,-14,-16,-18,-20,-22,-24,-26,-28,-30,-32,-34,-36],
                "tickCount": 100,
                "format": "d",
                "labelExpr": "datum.value % 10 == 0 ? datum.label : ''",
                "labelOverlap": false,
                "labelFontSize": {"condition": {"test": "datum.value % 10 == 0", "value": 26}, "value": 1},
                "tickSize": {"condition": {"test": "datum.value % 10 == 0", "value": 8}, "value": 4.5},
                "tickWidth": {"condition": {"test": "datum.value % 10 == 0", "value": 1.8}, "value": 1.3},
                "labelPadding": 20, "titlePadding": 12}}
          }
        },
        {
          "data": {"name": "rPcb"},
          "mark": {"type": "line", "color": "#ff7f0e", "strokeWidth": 4.5, "clip": true, "strokeJoin": "round", "strokeCap": "round"},
          "encoding": {
            "x": {"field": "f", "type": "quantitative"},
            "y": {"field": "v", "type": "quantitative"}
          }
        },
        {
          "mark": {"type": "rule", "color": "black", "strokeWidth": 1.8},
          "encoding": {"y": {"datum": 3.8, "type": "quantitative"}}
        }
      ]
    }
  ]
}
